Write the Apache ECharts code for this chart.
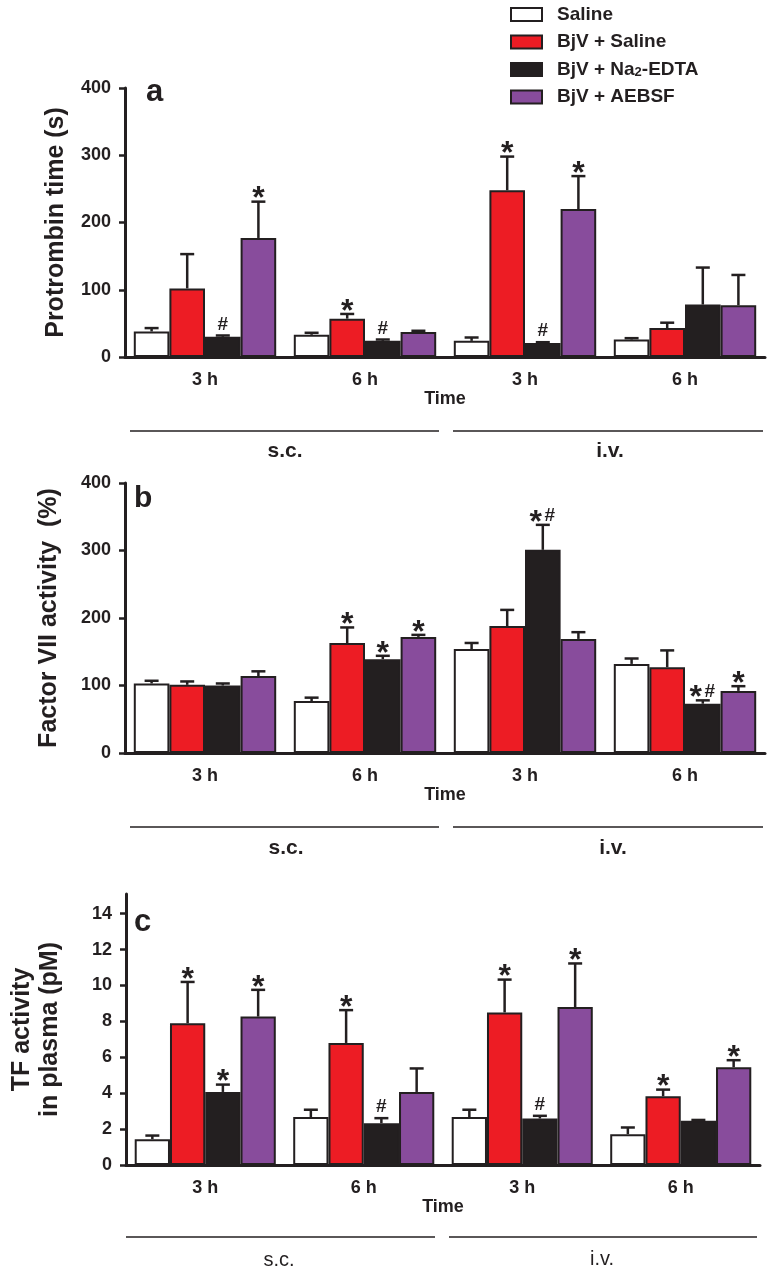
<!DOCTYPE html>
<html><head><meta charset="utf-8">
<script src="https://cdn.jsdelivr.net/npm/echarts@6/dist/echarts.min.js"></script>
<style>html,body{margin:0;padding:0;background:#fff}#c{width:774px;height:1269px}</style>
</head><body><div id="c"></div>
<script>
// ---------- data ----------
const categories = ['3 h', '6 h', '3 h', '6 h'];
const seriesNames = ['Saline', 'BjV + Saline', 'BjV + Na2-EDTA', 'BjV + AEBSF'];

// panel a: Protrombin time (s)
const ptSaline = [38, 33, 24, 26];
const ptSalineSem = [5, 3, 5, 2];
const ptBjvSaline = [102, 57, 248, 43];
const ptBjvSalineSem = [51, 7, 50, 8];
const ptEdta = [30, 24, 21, 78];
const ptEdtaSem = [2, 2, 1, 55];
const ptAebsf = [177, 37, 220, 77];
const ptAebsfSem = [54, 2, 49, 45];
const ptAnn = [['', '', '', ''], ['', '*', '*', ''], ['#', '#', '#', ''], ['*', '', '*', '']];
const ptTicks = [0, 100, 200, 300, 400];

// panel b: Factor VII activity (%)
const f7Saline = [103, 77, 154, 132];
const f7SalineSem = [4, 5, 9, 8];
const f7BjvSaline = [101, 163, 188, 127];
const f7BjvSalineSem = [5, 23, 24, 25];
const f7Edta = [100, 139, 301, 73];
const f7EdtaSem = [3, 5, 37, 5];
const f7Aebsf = [114, 172, 169, 92];
const f7AebsfSem = [7, 3, 10, 7];
const f7Ann = [['', '', '', ''], ['', '*', '', ''], ['', '*', '*#', '*#'], ['', '*', '', '*']];
const f7Ticks = [0, 100, 200, 300, 400];

// panel c: TF activity in plasma (pM)
const tfSaline = [1.44, 2.67, 2.67, 1.72];
const tfSalineSem = [0.2, 0.41, 0.41, 0.37];
const tfBjvSaline = [7.9, 6.8, 8.5, 3.83];
const tfBjvSalineSem = [2.3, 1.83, 1.83, 0.37];
const tfEdta = [4.07, 2.33, 2.59, 2.46];
const tfEdtaSem = [0.41, 0.28, 0.15, 0.05];
const tfAebsf = [8.27, 4.07, 8.8, 5.45];
const tfAebsfSem = [1.49, 1.31, 2.43, 0.39];
const tfAnn = [['', '', '', ''], ['*', '*', '*', '*'], ['*', '#', '#', ''], ['*', '', '*', '*']];
const tfTicks = [0, 2, 4, 6, 8, 10, 12, 14];

// ---------- style ----------
const FONT = 'Liberation Sans, Arial, sans-serif';
const INK = '#231F20';
const colors = ['#FFFFFF', '#ED1C24', '#231F20', '#884C9C'];
const CAT_GAP = 0.11;

const panels = [
  {means: [ptSaline, ptBjvSaline, ptEdta, ptAebsf], sems: [ptSalineSem, ptBjvSalineSem, ptEdtaSem, ptAebsfSem], ann: ptAnn,
   grid: {left: 125, top: 88, width: 640, height: 269}, max: 400, ticks: ptTicks,
   name: 'Protrombin time (s)', nameGap: 54},
  {means: [f7Saline, f7BjvSaline, f7Edta, f7Aebsf], sems: [f7SalineSem, f7BjvSalineSem, f7EdtaSem, f7AebsfSem], ann: f7Ann,
   grid: {left: 125, top: 483, width: 640, height: 270}, max: 400, ticks: f7Ticks,
   name: 'Factor VII activity  (%)', nameGap: 62},
  {means: [tfSaline, tfBjvSaline, tfEdta, tfAebsf], sems: [tfSalineSem, tfBjvSalineSem, tfEdtaSem, tfAebsfSem], ann: tfAnn,
   grid: {left: 120, top: 894, width: 640, height: 271}, max: 15.1, ticks: tfTicks,
   name: 'TF activity\nin plasma (pM)', nameGap: 62}
];

const grids = [], xAxes = [], yAxes = [], series = [];

panels.forEach((p, g) => {
  grids.push(Object.assign({containLabel: false}, p.grid));
  xAxes.push({
    type: 'category', gridIndex: g, data: categories,
    name: 'Time', nameLocation: 'middle', nameGap: 31,
    nameTextStyle: {fontFamily: FONT, fontWeight: 'bold', fontSize: 18, color: INK},
    axisLine: {lineStyle: {color: INK, width: 3}},
    axisTick: {alignWithLabel: true, length: 6, lineStyle: {color: INK, width: 3}},
    axisLabel: {fontFamily: FONT, fontWeight: 'bold', fontSize: 18, color: INK, margin: 14},
    splitLine: {show: false}
  });
  yAxes.push({
    type: 'value', gridIndex: g, min: 0, max: p.max,
    name: p.name, nameLocation: 'middle', nameGap: p.nameGap,
    nameTextStyle: {fontFamily: FONT, fontWeight: 'bold', fontSize: 25, color: INK, lineHeight: 28},
    axisLine: {show: true, lineStyle: {color: INK, width: 3}},
    axisTick: {show: true, length: 6, customValues: p.ticks, lineStyle: {color: INK, width: 2.5}},
    axisLabel: {fontFamily: FONT, fontWeight: 'bold', fontSize: 18, color: INK, margin: 14, customValues: p.ticks},
    splitLine: {show: false}
  });
  p.means.forEach((m, s) => {
    series.push({
      type: 'bar', name: seriesNames[s], xAxisIndex: g, yAxisIndex: g,
      data: m, barGap: '0%', barCategoryGap: (CAT_GAP * 100) + '%',
      itemStyle: {color: colors[s], borderColor: INK, borderWidth: 2},
      emphasis: {disabled: true}, z: 2
    });
  });
  p.means.forEach((m, s) => {
    const sem = p.sems[s];
    const ann = p.ann[s];
    series.push({
      type: 'custom', name: 'err' + g + '_' + s, xAxisIndex: g, yAxisIndex: g, z: 5,
      data: m.map((v, i) => [i, v, v + sem[i]]),
      encode: {x: 0, y: 1},
      renderItem: function (params, api) {
        const i = params.dataIndex;
        const band = api.size([1, 0])[0];
        const bw = band * (1 - CAT_GAP) / 4;
        const cx = api.coord([i, 0])[0] + (s - 1.5) * bw;
        const yb = api.coord([i, api.value(1)])[1];
        const yt = api.coord([i, api.value(2)])[1];
        const children = [
          {type: 'line', shape: {x1: cx, y1: yb, x2: cx, y2: yt}, style: {stroke: INK, lineWidth: 2.5}},
          {type: 'line', shape: {x1: cx - 7, y1: yt, x2: cx + 7, y2: yt}, style: {stroke: INK, lineWidth: 2.5}}
        ];
        const a = ann[i];
        const star = (x) => ({type: 'text', style: {text: '*', x: x, y: yt - 2, align: 'center', verticalAlign: 'middle',
          fontFamily: FONT, fontWeight: 'bold', fontSize: 32, fill: INK}});
        const hash = (x, dy) => ({type: 'text', style: {text: '#', x: x, y: yt - dy, align: 'center', verticalAlign: 'middle',
          fontFamily: FONT, fontWeight: 'bold', fontSize: 19, fill: INK}});
        if (a === '*') children.push(star(cx));
        else if (a === '#') children.push(hash(cx, 11));
        else if (a === '*#') { children.push(star(cx - 7)); children.push(hash(cx + 7, 9)); }
        return {type: 'group', children: children};
      }
    });
  });
});

const textStyle = (t, x, y, size, bold) => ({
  type: 'text', x: x, y: y,
  style: {text: t, align: 'center', verticalAlign: 'middle', fontFamily: FONT,
          fontWeight: bold ? 'bold' : 'normal', fontSize: size, fill: INK}
});
const hline = (x1, x2, y) => ({type: 'line', shape: {x1: x1, y1: y, x2: x2, y2: y}, style: {stroke: INK, lineWidth: 1.3}});

const graphic = [
  {type: 'text', x: 146, y: 92, style: {text: 'a', align: 'left', verticalAlign: 'middle', fontFamily: FONT, fontWeight: 'bold', fontSize: 31, fill: INK}},
  {type: 'text', x: 134, y: 499, style: {text: 'b', align: 'left', verticalAlign: 'middle', fontFamily: FONT, fontWeight: 'bold', fontSize: 30, fill: INK}},
  {type: 'text', x: 134, y: 922, style: {text: 'c', align: 'left', verticalAlign: 'middle', fontFamily: FONT, fontWeight: 'bold', fontSize: 31, fill: INK}},
  hline(130, 439, 431), hline(453, 763, 431),
  textStyle('s.c.', 285, 451, 21, true), textStyle('i.v.', 610, 451, 21, true),
  hline(130, 439, 827), hline(453, 763, 827),
  textStyle('s.c.', 286, 848, 21, true), textStyle('i.v.', 613, 848, 21, true),
  hline(126, 435, 1237), hline(449, 757, 1237),
  textStyle('s.c.', 279, 1260, 20, false), textStyle('i.v.', 602, 1259, 20, false)
];

const chart = echarts.init(document.getElementById('c'), null, {renderer: 'canvas'});
chart.setOption({
  animation: false,
  backgroundColor: '#fff',
  grid: grids, xAxis: xAxes, yAxis: yAxes, series: series, graphic: graphic,
  legend: {
    data: seriesNames, orient: 'vertical', left: 510, top: 5, padding: 0,
    itemWidth: 31, itemHeight: 13, itemGap: 8.5, icon: 'rect', selectedMode: false,
    itemStyle: {borderColor: INK, borderWidth: 2},
    formatter: function (n) {
      if (n === 'BjV + Na2-EDTA') return '{n|BjV + Na}{s|2}{n|-EDTA}';
      return '{n|' + n + '}';
    },
    textStyle: {
      padding: [0, 0, 0, 10],
      rich: {
        n: {fontFamily: FONT, fontWeight: 'bold', fontSize: 19, color: INK, lineHeight: 20},
        s: {fontFamily: FONT, fontWeight: 'bold', fontSize: 13, color: INK, lineHeight: 20, padding: [6, 0, 0, 0]}
      }
    }
  }
});
</script></body></html>
